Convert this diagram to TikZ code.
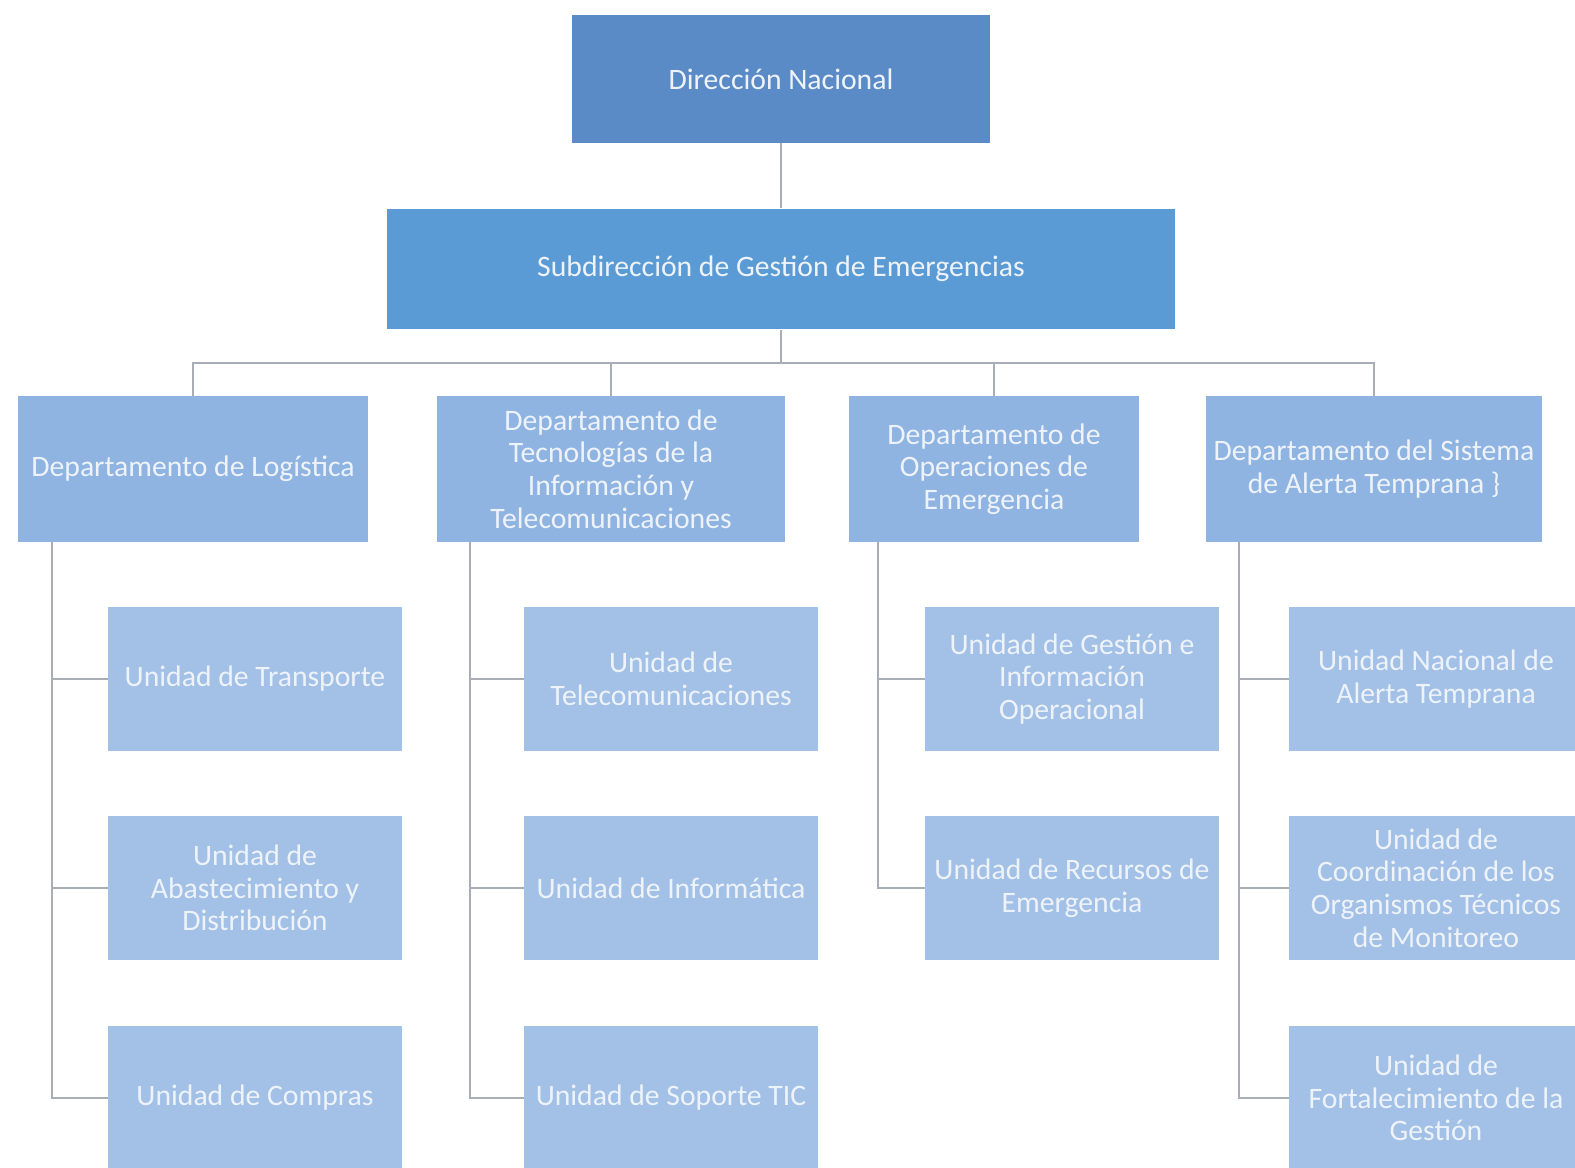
\documentclass[tikz,border=0pt]{standalone}
\usepackage{fontspec}
\setmainfont{Carlito}
\usetikzlibrary{positioning}
\definecolor{dirblue}{HTML}{5A8BC6}
\definecolor{subblue}{HTML}{5B9BD5}
\definecolor{depblue}{HTML}{8FB4E2}
\definecolor{uniblue}{HTML}{A3C1E6}
\definecolor{linegray}{HTML}{A8AEB5}
\definecolor{txtwhite}{HTML}{EEF3FA}
\tikzset{
	box/.style={fill=#1, text=txtwhite, align=center, inner sep=0pt, font=\fontsize{16.9pt}{18.6pt}\selectfont},
	depbox/.style={box=depblue, minimum height=2.92cm},
	unitbox/.style={box=uniblue, minimum width=5.88cm, minimum height=2.88cm},
	link/.style={draw=linegray, line width=1.1pt}
}

\begin{document}
\begin{tikzpicture}[x=0.02cm, y=-0.02cm]
			%%%%% START %%%%%
			
			\useasboundingbox (0, 0) rectangle (1575, 1168);
			\clip (0, 0) rectangle (1575, 1168);
			
			\node[box=dirblue, minimum width=8.38cm, minimum height=2.56cm] (dn) at (781, 79) {Dirección Nacional};
			\node[box=subblue, minimum width=15.76cm, minimum height=2.42cm] (sub) at (781, 269) {Subdirección de Gestión de Emergencias};
			\coordinate (bus) at (781, 363);
			
			\node[depbox, minimum width=7.0cm] (dlog) at (193, 469) {Departamento de Logística};
			\node[depbox, minimum width=6.96cm] (dtic) at (611, 469) {Departamento de\\Tecnologías de la\\Información y\\Telecomunicaciones};
			\node[depbox, minimum width=5.82cm] (dope) at (994, 469) {Departamento de\\Operaciones de\\Emergencia};
			\node[depbox, minimum width=6.72cm] (dsat) at (1374, 469) {Departamento del Sistema\\de Alerta Temprana \}};
			
			\node[unitbox] (ulog1) at (255, 679) {Unidad de Transporte};
			\node[unitbox] (ulog2) at (255, 888) {Unidad de\\Abastecimiento y\\Distribución};
			\node[unitbox] (ulog3) at (255, 1098) {Unidad de Compras};
			
			\node[unitbox] (utic1) at (671, 679) {Unidad de\\Telecomunicaciones};
			\node[unitbox] (utic2) at (671, 888) {Unidad de Informática};
			\node[unitbox] (utic3) at (671, 1098) {Unidad de Soporte TIC};
			
			\node[unitbox] (uope1) at (1072, 679) {Unidad de Gestión e\\Información\\Operacional};
			\node[unitbox] (uope2) at (1072, 888) {Unidad de Recursos de\\Emergencia};
			
			\node[unitbox] (usat1) at (1436, 679) {Unidad Nacional de\\Alerta Temprana};
			\node[unitbox] (usat2) at (1436, 888) {Unidad de\\Coordinación de los\\Organismos Técnicos\\de Monitoreo};
			\node[unitbox] (usat3) at (1436, 1098) {Unidad de\\Fortalecimiento de la\\Gestión};
			
			\draw[link] (dn.south) -- (sub.north);
			\draw[link] (sub.south) -- (bus) -| (dlog.north);
			\draw[link] (bus) -| (dtic.north);
			\draw[link] (bus) -| (dope.north);
			\draw[link] (bus) -| (dsat.north);
			
			\draw[link] (dlog.south west) ++(34, 0) |- (ulog1.west);
			\draw[link] (dlog.south west) ++(34, 0) |- (ulog2.west);
			\draw[link] (dlog.south west) ++(34, 0) |- (ulog3.west);
			
			\draw[link] (dtic.south west) ++(33, 0) |- (utic1.west);
			\draw[link] (dtic.south west) ++(33, 0) |- (utic2.west);
			\draw[link] (dtic.south west) ++(33, 0) |- (utic3.west);
			
			\draw[link] (dope.south west) ++(30, 0) |- (uope1.west);
			\draw[link] (dope.south west) ++(30, 0) |- (uope2.west);
			
			\draw[link] (dsat.south west) ++(33, 0) |- (usat1.west);
			\draw[link] (dsat.south west) ++(33, 0) |- (usat2.west);
			\draw[link] (dsat.south west) ++(33, 0) |- (usat3.west);
			
			%%%%% END %%%%%
\end{tikzpicture}
\end{document}
